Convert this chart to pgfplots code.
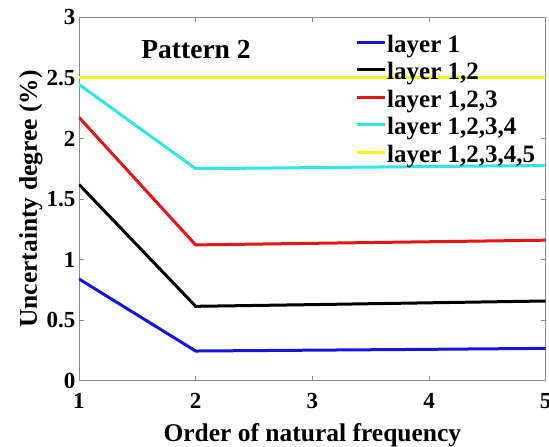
\documentclass[border=0pt]{standalone}
\usepackage{fontspec}
\setmainfont{Liberation Serif}
\usepackage{pgfplots}
\pgfplotsset{compat=1.18}
\definecolor{lblue}{RGB}{20,20,225}
\definecolor{lred}{RGB}{230,20,20}
\definecolor{lcyan}{RGB}{50,230,230}
\definecolor{lyellow}{RGB}{245,245,20}

\begin{document}
\begin{tikzpicture}
\begin{axis}[
  scale only axis,
  width=466.7pt, height=363.4pt,
  xmin=1, xmax=5, ymin=0, ymax=3,
  xtick={1,2,3,4,5},
  ytick={0,0.5,1,1.5,2,2.5,3},
  /pgf/number format/assume math mode=true,
  tick align=inside,
  major tick length=5pt,
  axis line style={black!45, line width=0.8pt},
  every tick/.style={black!45, line width=0.8pt},
  tick label style={font=\fontsize{23}{23}\selectfont\bfseries},
  xticklabel style={yshift=-9pt},
  xlabel={Order of natural frequency},
  ylabel={Uncertainty degree (\%)},
  xlabel style={font=\fontsize{25.5}{26}\selectfont\bfseries,
    at={(axis description cs:0.5,-0.168)}, anchor=base},
  ylabel style={font=\fontsize{25.5}{26}\selectfont\bfseries,
    at={(axis description cs:-0.09,0.5)}, anchor=base, rotate=0},
  legend cell align=left,
  legend image code/.code={\draw[#1, line width=3pt] (0pt,2pt) -- (28pt,2pt);},
  legend style={draw=none, fill=none, inner sep=0pt, row sep=11pt, column sep=1pt,
    at={(axis description cs:0.5914,0.9494)}, anchor=north west,
    font=\fontsize{25}{25}\selectfont\bfseries,
    nodes={inner sep=0pt, text height=16.5pt, text depth=0pt}},
]
\addplot[color=lblue, line width=3pt] coordinates {
  (1,0.840) (2,0.245) (3,0.252) (4,0.259) (5,0.267)};
\addlegendentry{layer 1}
\addplot[color=black, line width=3pt] coordinates {
  (1,1.620) (2,0.614) (3,0.628) (4,0.643) (5,0.658)};
\addlegendentry{layer 1,2}
\addplot[color=lred, line width=3pt] coordinates {
  (1,2.174) (2,1.121) (3,1.134) (4,1.147) (5,1.160)};
\addlegendentry{layer 1,2,3}
\addplot[color=lcyan, line width=3pt] coordinates {
  (1,2.446) (2,1.750) (3,1.759) (4,1.768) (5,1.777)};
\addlegendentry{layer 1,2,3,4}
\addplot[color=lyellow, line width=3pt] coordinates {
  (1,2.500) (2,2.500) (3,2.500) (4,2.500) (5,2.500)};
\addlegendentry{layer 1,2,3,4,5}
\node[font=\fontsize{27.5}{28}\selectfont\bfseries, anchor=base]
  at (axis cs:2.003,2.662) {Pattern 2};
\end{axis}
\pgfresetboundingbox
\path ([shift={(-79pt,-66.3pt)}]current axis.south west)
  rectangle ([shift={(3.3pt,17.3pt)}]current axis.north east);
\end{tikzpicture}
\end{document}
